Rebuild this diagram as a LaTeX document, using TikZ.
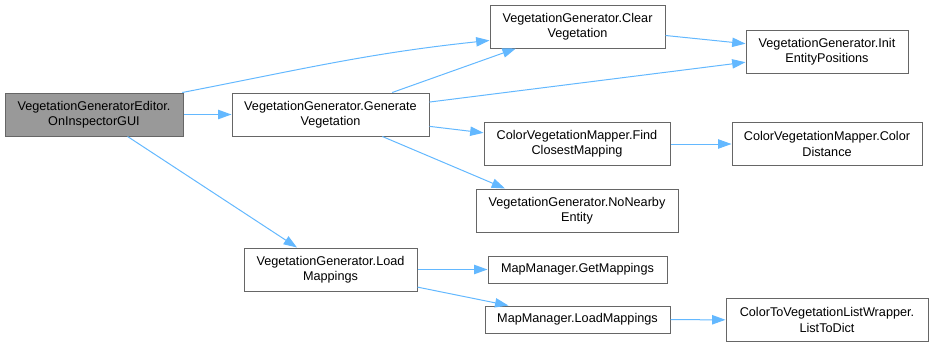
\documentclass[tikz,border=0pt]{standalone}
\usepackage{fontspec}
\setmainfont{Liberation Sans}
\usetikzlibrary{arrows.meta}

\definecolor{callblue}{HTML}{63B8FF}
\definecolor{boxline}{HTML}{666666}
\definecolor{rootgray}{HTML}{999999}

\begin{document}
\begin{tikzpicture}[x=0.75pt, y=0.75pt,
  fn/.style={draw=boxline, fill=white, line width=0.75pt, align=center,
    inner sep=1pt, minimum height=32.25pt,
    font=\fontsize{9.5}{11.3}\selectfont},
  fnsmall/.style={fn, minimum height=20.25pt},
  root/.style={fn, fill=rootgray},
  call/.style={callblue, line width=0.75pt,
    -{Triangle[length=10pt, width=7pt]}}]
  \useasboundingbox (0,0) rectangle (933,-347);

  % functions
  \node[root, minimum width=133.5pt] (insp) at (94,-114.5)
    {VegetationGeneratorEditor.\\OnInspectorGUI};
  \node[fn, minimum width=147.75pt] (gen) at (330.5,-114.5)
    {VegetationGenerator.Generate\\Vegetation};
  \node[fn, minimum width=131.25pt] (clear) at (577.5,-26.5)
    {VegetationGenerator.Clear\\Vegetation};
  \node[fn, minimum width=121.5pt] (init) at (827,-52)
    {VegetationGenerator.Init\\EntityPositions};
  \node[fn, minimum width=139.5pt] (find) at (577,-144)
    {ColorVegetationMapper.Find\\ClosestMapping};
  \node[fn, minimum width=142.5pt] (dist) at (827,-144)
    {ColorVegetationMapper.Color\\Distance};
  \node[fn, minimum width=151.5pt] (nonear) at (577,-210.5)
    {VegetationGenerator.NoNearby\\Entity};
  \node[fn, minimum width=129.75pt] (loadm) at (330.5,-269.5)
    {VegetationGenerator.Load\\Mappings};
  \node[fnsmall, minimum width=134.25pt] (getm) at (577.5,-269.5)
    {MapManager.GetMappings};
  \node[fnsmall, minimum width=138.75pt] (mmload) at (577.5,-319.5)
    {MapManager.LoadMappings};
  \node[fn, minimum width=151.5pt] (dict) at (827,-320)
    {ColorToVegetationListWrapper.\\ListToDict};

  % calls
  \draw[call] (insp) -- (gen);
  \draw[call] (insp.14) to[out=11, in=186] (clear.189);
  \draw[call] (insp) -- (loadm);
  \draw[call] (gen) -- (clear);
  \draw[call] (gen) -- (init);
  \draw[call] (gen) -- (find);
  \draw[call] (gen) -- (nonear.163);
  \draw[call] (clear) -- (init);
  \draw[call] (find) -- (dist);
  \draw[call] (loadm) -- (getm);
  \draw[call] (loadm) -- (mmload);
  \draw[call] (mmload) -- (dict);
\end{tikzpicture}
\end{document}
